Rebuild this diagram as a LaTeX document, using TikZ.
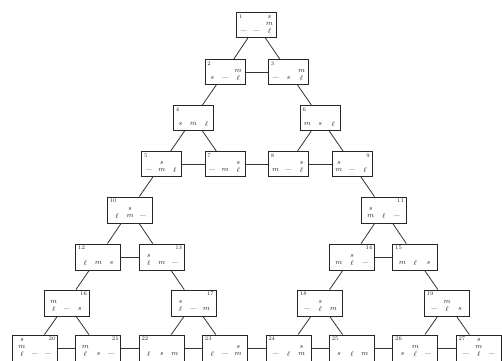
\documentclass[tikz,border=0pt]{standalone}
\usetikzlibrary{calc}
\tikzset{
  hbox/.style={draw=black!85, line width=0.9pt, minimum width=40pt, minimum height=25pt, inner sep=0pt},
  hboxw/.style={hbox, minimum width=45pt, minimum height=26pt},
  dsk/.style={inner sep=0pt, font=\fontsize{7}{7}\selectfont, text=black!85},
  num/.style={inner sep=0pt, font=\fontsize{5.5}{5.5}\selectfont, text=black!85},
  link/.style={draw=black!80, line width=0.8pt}
}
\newcommand\pegstack[3]{%
  \if\relax\detokenize{#3}\relax
    \node[dsk] at ($(#1)+(#2,6)$) {\_};
  \else
    \foreach \dd [count=\kk from 0] in {#3} {\node[dsk] at ($(#1)+(#2,{6-7*\kk})$) {$\dd$};}
  \fi}
\newcommand\hstate[8]{%
  \node[#1] (#2) at #3 {};
  \pegstack{#2}{-13}{#6}\pegstack{#2}{0}{#7}\pegstack{#2}{13}{#8}
  \if l#5
    \node[num,anchor=north west] at ($(#2.north west)+(2.5,2.5)$) {#4};
  \else
    \node[num,anchor=north east] at ($(#2.north east)+(-2.5,2.5)$) {#4};
  \fi}
\begin{document}
\begin{tikzpicture}[x=1pt,y=-1pt]
\fill[white] (0,0) rectangle (502,360);
\useasboundingbox (0,0) rectangle (502,360);
% row 0
\hstate{hbox}{n1}{(256.5,25)}{1}{l}{}{}{\ell,m,s}
% row 1
\hstate{hbox}{n2}{(225.2,72)}{2}{l}{s}{}{\ell,m}
\hstate{hbox}{n3}{(288.6,72)}{3}{l}{}{s}{\ell,m}
% row 2
\hstate{hbox}{n4}{(193.5,118)}{4}{l}{s}{m}{\ell}
\hstate{hbox}{n6}{(320.3,118)}{6}{l}{m}{s}{\ell}
% row 3
\hstate{hbox}{n5}{(161.8,164)}{5}{l}{}{m,s}{\ell}
\hstate{hbox}{n7}{(225.2,164)}{7}{l}{}{m}{\ell,s}
\hstate{hbox}{n8}{(288.6,164)}{8}{l}{m}{}{\ell,s}
\hstate{hbox}{n9}{(352,164)}{9}{r}{m,s}{}{\ell}
% row 4
\hstate{hboxw}{n10}{(130.1,210)}{10}{l}{\ell}{m,s}{}
\hstate{hboxw}{n11}{(383.7,210)}{11}{r}{m,s}{\ell}{}
% row 5
\hstate{hboxw}{n12}{(98.4,257)}{12}{l}{\ell}{m}{s}
\hstate{hboxw}{n13}{(161.8,257)}{13}{r}{\ell,s}{m}{}
\hstate{hboxw}{n14}{(352,257)}{14}{r}{m}{\ell,s}{}
\hstate{hboxw}{n15}{(415.4,257)}{15}{l}{m}{\ell}{s}
% row 6
\hstate{hboxw}{n16}{(66.7,303)}{16}{r}{\ell,m}{}{s}
\hstate{hboxw}{n17}{(193.5,303)}{17}{r}{\ell,s}{}{m}
\hstate{hboxw}{n18}{(320.3,303)}{18}{l}{}{\ell,s}{m}
\hstate{hboxw}{n19}{(447.1,303)}{19}{l}{}{\ell,m}{s}
% row 7
\hstate{hboxw}{n20}{(35,348)}{20}{r}{\ell,m,s}{}{}
\hstate{hboxw}{n21}{(98.4,348)}{21}{r}{\ell,m}{s}{}
\hstate{hboxw}{n22}{(161.8,348)}{22}{l}{\ell}{s}{m}
\hstate{hboxw}{n23}{(225.2,348)}{23}{l}{\ell}{}{m,s}
\hstate{hboxw}{n24}{(288.6,348)}{24}{l}{}{\ell}{m,s}
\hstate{hboxw}{n25}{(352,348)}{25}{l}{s}{\ell}{m}
\hstate{hboxw}{n26}{(415.4,348)}{26}{l}{s}{\ell,m}{}
\hstate{hboxw}{n27}{(478.8,348)}{27}{l}{}{\ell,m,s}{}
% connectors
\foreach \a/\b in {n1/n2,n1/n3,n2/n3,n2/n4,n3/n6,n4/n5,n4/n7,n5/n7,n7/n8,n6/n8,n6/n9,n8/n9,
  n5/n10,n9/n11,n10/n12,n10/n13,n12/n13,n11/n14,n11/n15,n14/n15,
  n12/n16,n13/n17,n14/n18,n15/n19,
  n16/n20,n16/n21,n20/n21,n21/n22,n17/n22,n17/n23,n22/n23,n23/n24,n18/n24,n18/n25,n24/n25,n25/n26,n19/n26,n19/n27,n26/n27}
  {\draw[link] (\a) -- (\b);}
\end{tikzpicture}
\end{document}
